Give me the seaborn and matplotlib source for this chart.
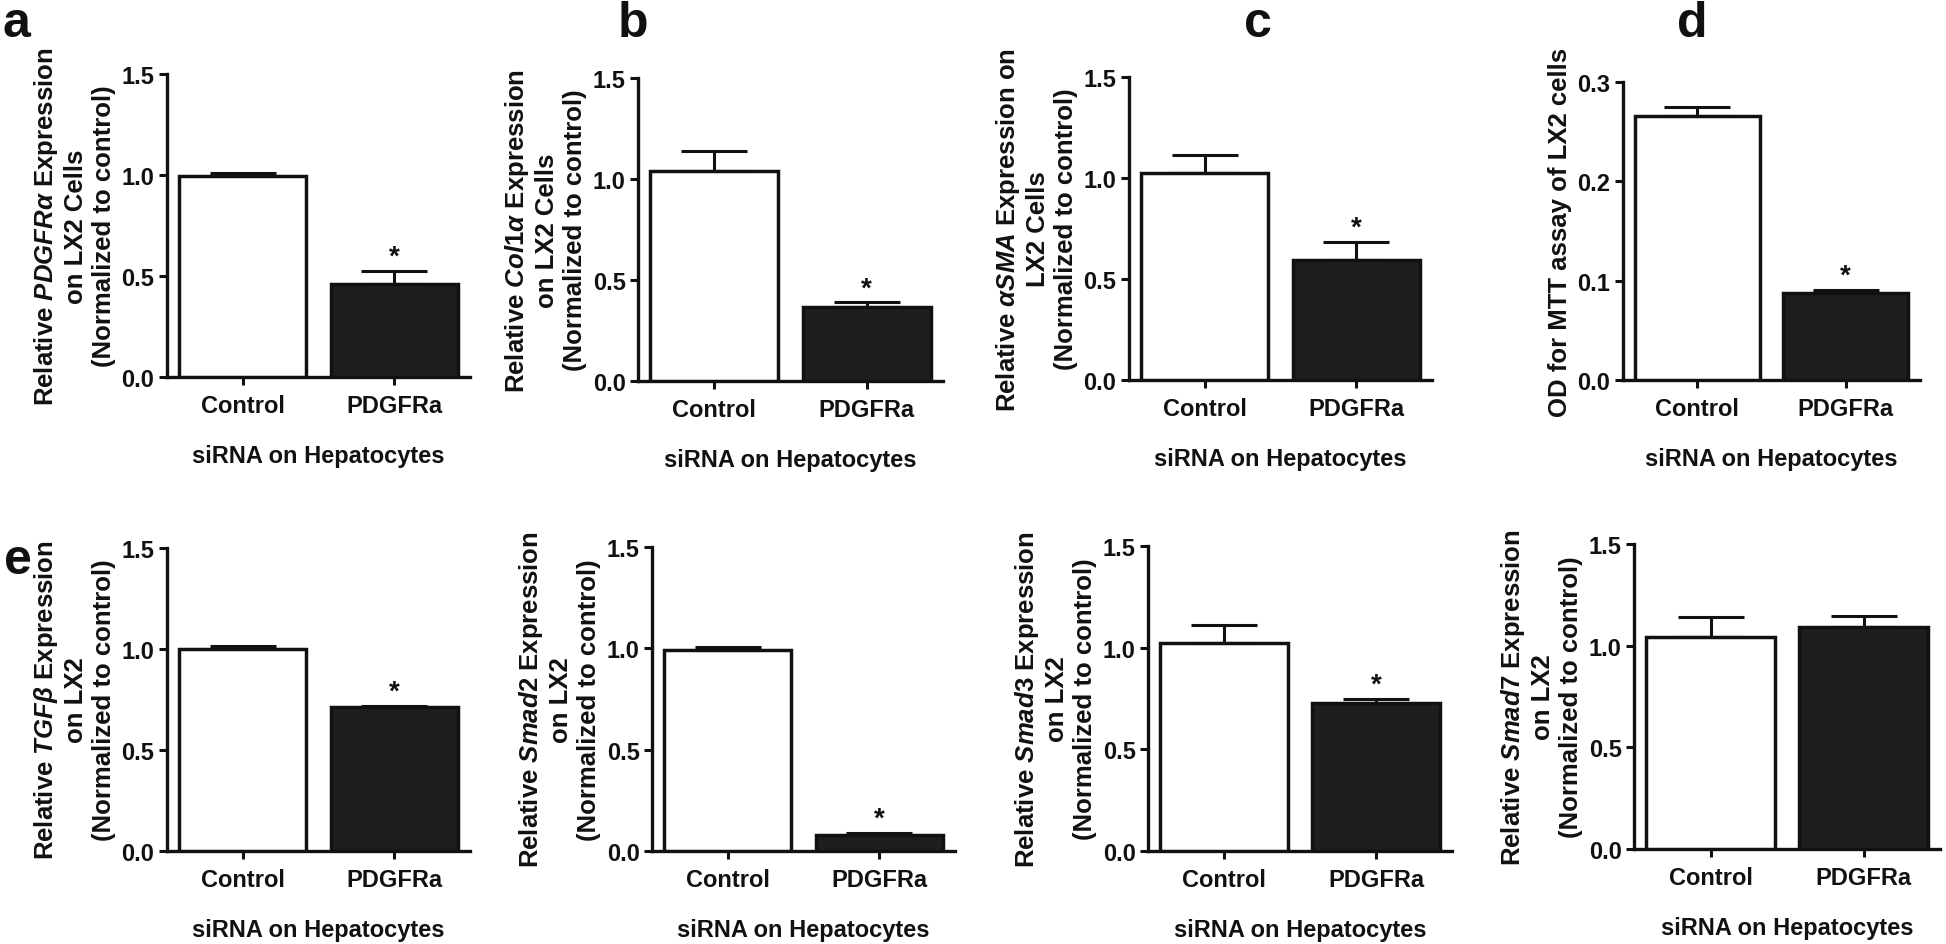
import numpy as np
import pandas as pd
import matplotlib
matplotlib.use('Agg')
from matplotlib import pyplot as plt
from matplotlib.ticker import FormatStrFormatter
import seaborn as sns

groups = ['Control', 'PDGFRa']

# bar heights (mean) and upper error (SEM) for each panel
pdgfra_mean = [0.995, 0.46]
pdgfra_err = [0.015, 0.065]
col1a_mean = [1.04, 0.366]
col1a_err = [0.10, 0.024]
asma_mean = [1.025, 0.594]
asma_err = [0.089, 0.089]
mtt_mean = [0.266, 0.0876]
mtt_err = [0.009, 0.003]
tgfb_mean = [0.998, 0.713]
tgfb_err = [0.015, 0.005]
smad2_mean = [0.99, 0.079]
smad2_err = [0.017, 0.010]
smad3_mean = [1.023, 0.728]
smad3_err = [0.088, 0.020]
smad7_mean = [1.043, 1.092]
smad7_err = [0.098, 0.054]

significant = [True, True, True, True, True, True, True, False]

ylabels = [
    'Relative $\\mathit{PDGFR}\\alpha$ Expression\non LX2 Cells\n(Normalized to control)',
    'Relative $\\mathit{Col1}\\alpha$ Expression\non LX2 Cells\n(Normalized to control)',
    'Relative $\\alpha\\mathit{SMA}$ Expression on\nLX2 Cells\n(Normalized to control)',
    'OD for MTT assay of LX2 cells',
    'Relative $\\mathit{TGF}\\beta$ Expression\non LX2\n(Normalized to control)',
    'Relative $\\mathit{Smad2}$ Expression\non LX2\n(Normalized to control)',
    'Relative $\\mathit{Smad3}$ Expression\non LX2\n(Normalized to control)',
    'Relative $\\mathit{Smad7}$ Expression\non LX2\n(Normalized to control)',
]
xlabel = 'siRNA on Hepatocytes'

means = [pdgfra_mean, col1a_mean, asma_mean, mtt_mean, tgfb_mean, smad2_mean, smad3_mean, smad7_mean]
errs = [pdgfra_err, col1a_err, asma_err, mtt_err, tgfb_err, smad2_err, smad3_err, smad7_err]
ytops = [1.5, 1.5, 1.5, 0.3, 1.5, 1.5, 1.5, 1.5]
ysteps = [0.5, 0.5, 0.5, 0.1, 0.5, 0.5, 0.5, 0.5]

# axes boxes in pixels: left, top, right, bottom
boxes = [
    (167, 75, 470, 378),
    (638, 79, 943, 382),
    (1129, 78, 1432, 381),
    (1623, 83, 1920, 381),
    (167, 549, 470, 852),
    (652, 548, 955, 852),
    (1148, 547, 1452, 852),
    (1634, 545, 1940, 850),
]

letters = [('a', 2, 37), ('b', 618, 37), ('c', 1244, 37), ('d', 1677, 37), ('e', 4, 574)]

sns.set_theme(style='ticks')
plt.rcParams['font.family'] = ['Liberation Sans', 'DejaVu Sans']
plt.rcParams['font.weight'] = 'bold'
plt.rcParams['mathtext.fontset'] = 'custom'
plt.rcParams['mathtext.rm'] = 'Liberation Sans:bold'
plt.rcParams['mathtext.it'] = 'Liberation Sans:italic'
plt.rcParams['mathtext.bf'] = 'Liberation Sans:bold'

W, H = 1946, 945
fig = plt.figure(figsize=(W / 100, H / 100), dpi=100)
dark = '#1e1e1e'
lw = 2.5

for i in range(8):
    l, t, r, b = boxes[i]
    ax = fig.add_axes([l / W, 1 - b / H, (r - l) / W, (b - t) / H])
    df = pd.DataFrame({'group': groups, 'value': means[i]})
    sns.barplot(data=df, x='group', y='value', hue='group', palette=['white', dark],
                width=0.84, errorbar=None, legend=False, ax=ax,
                edgecolor='#111111', linewidth=lw, zorder=3)
    ax.errorbar([0, 1], means[i], yerr=[[0, 0], errs[i]], fmt='none', ecolor='#111111',
                elinewidth=2.2, capsize=24, capthick=2.2, zorder=2)
    if significant[i]:
        ax.annotate('*', xy=(1, means[i][1] + errs[i][1]), xytext=(0, 5),
                    textcoords='offset points', ha='center', va='baseline',
                    fontsize=20, fontweight='bold', color='#111111')
    ax.set_xlim(-0.5, 1.5)
    ax.set_ylim(0, ytops[i])
    ax.set_yticks(np.arange(0, ytops[i] + ysteps[i] / 2, ysteps[i]))
    ax.yaxis.set_major_formatter(FormatStrFormatter('%.1f'))
    ax.tick_params(axis='both', length=6, width=2.2, color='#111111', labelsize=17,
                   labelcolor='#111111', pad=3)
    ax.tick_params(axis='x', pad=6)
    for lab in ax.get_xticklabels() + ax.get_yticklabels():
        lab.set_fontweight('bold')
    for s in ['left', 'bottom']:
        ax.spines[s].set_linewidth(2.4)
        ax.spines[s].set_color('#111111')
    sns.despine(ax=ax)
    ax.set_xlabel(xlabel, fontsize=17, fontweight='bold', labelpad=20, color='#111111')
    ax.set_ylabel(ylabels[i], fontsize=18.5, fontweight='bold', labelpad=4, color='#111111',
                  linespacing=1.22)
    ax.set_facecolor('white')

for letter, x, y in letters:
    fig.text(x / W, 1 - y / H, letter, fontsize=36, fontweight='bold', ha='left',
             va='baseline', color='#111111')

fig.savefig('out.png', dpi=100, facecolor='white')
